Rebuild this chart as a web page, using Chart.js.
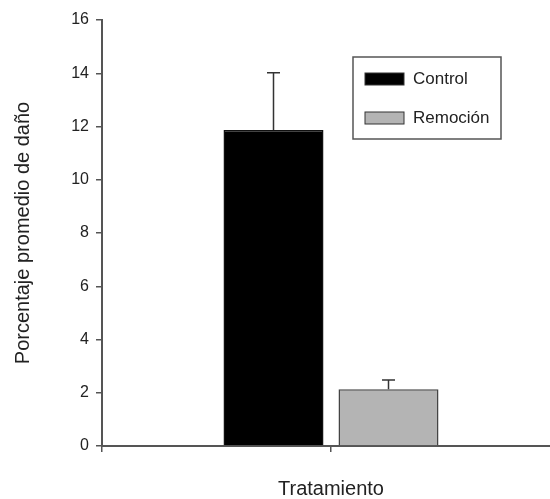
<!DOCTYPE html>
<html>
<head>
<meta charset="utf-8">
<script src="https://cdn.jsdelivr.net/npm/chart.js@4/dist/chart.umd.min.js"></script>
<style>
  html, body { margin: 0; padding: 0; background: #fff; }
  #wrap { width: 550px; height: 499px; }
</style>
</head>
<body>
<div id="wrap"><canvas id="c" width="550" height="499"></canvas></div>
<script>
// Treatments, mean damage (%) and standard error
const treatments = ['Control', 'Remoción'];
const meanDamage = [11.87, 2.13];
const errDamage = [2.15, 0.35];
const barColors = ['#000000', '#b4b4b4'];
const yTicks = [0, 2, 4, 6, 8, 10, 12, 14, 16];
const xLabel = 'Tratamiento';
const yLabel = 'Porcentaje promedio de daño';

const FONT = "'Liberation Sans', Arial, Helvetica, sans-serif";
const TEXT = '#222222';
const AXIS = '#555555';

// x scale: the single treatment group sits at x = 1
const X_MIN = -0.0457;
const X_MAX = 2;

const datasets = treatments.map((name, i) => ({
  label: name,
  data: [{ x: 1, y: meanDamage[i] }],
  err: [errDamage[i]],
  backgroundColor: barColors[i],
  borderColor: i === 0 ? '#111111' : '#444444',
  borderWidth: 1.5,
  borderSkipped: 'bottom',
  categoryPercentage: 1.0044,
  barPercentage: 0.8696
}));

// Upper error bars with caps
const errorBars = {
  id: 'errorBars',
  afterDatasetsDraw(chart) {
    const ctx = chart.ctx;
    const y = chart.scales.y;
    ctx.save();
    ctx.strokeStyle = '#333333';
    ctx.lineWidth = 1.5;
    chart.data.datasets.forEach((ds, i) => {
      const meta = chart.getDatasetMeta(i);
      meta.data.forEach((bar, j) => {
        const top = y.getPixelForValue(ds.data[j].y + ds.err[j]);
        const cap = 6.5;
        ctx.beginPath();
        ctx.moveTo(bar.x, bar.y);
        ctx.lineTo(bar.x, top);
        ctx.moveTo(bar.x - cap, top);
        ctx.lineTo(bar.x + cap, top);
        ctx.stroke();
      });
    });
    ctx.restore();
  }
};

// Boxed legend in the upper right of the plot
const boxLegend = {
  id: 'boxLegend',
  afterDraw(chart) {
    const ctx = chart.ctx;
    const a = chart.chartArea;
    const bx = a.left + 251, by = a.top + 37, bw = 148, bh = 82;
    ctx.save();
    ctx.strokeStyle = AXIS;
    ctx.lineWidth = 1.5;
    ctx.strokeRect(bx, by, bw, bh);
    ctx.font = '17px ' + FONT;
    ctx.textBaseline = 'middle';
    ctx.textAlign = 'left';
    chart.data.datasets.forEach((ds, i) => {
      const sy = by + 16 + i * 39;
      ctx.fillStyle = ds.backgroundColor;
      ctx.fillRect(bx + 12, sy, 39, 12);
      ctx.strokeStyle = '#333333';
      ctx.lineWidth = 1;
      ctx.strokeRect(bx + 12, sy, 39, 12);
      ctx.fillStyle = TEXT;
      ctx.fillText(ds.label, bx + 60, sy + 6);
    });
    ctx.restore();
  }
};

new Chart(document.getElementById('c'), {
  type: 'bar',
  data: { datasets },
  options: {
    responsive: false,
    animation: false,
    devicePixelRatio: 1,
    layout: { padding: { top: 20, right: 0, bottom: 0, left: 0 } },
    plugins: { legend: { display: false }, tooltip: { enabled: false } },
    scales: {
      x: {
        type: 'linear',
        offset: false,
        min: X_MIN,
        max: X_MAX,
        afterBuildTicks(scale) { scale.ticks = [{ value: X_MIN }, { value: 1 }]; },
        afterFit(scale) {
          scale.height = 53;
          scale.paddingLeft = 0;
          scale.paddingRight = 0;
        },
        ticks: {
          autoSkip: false,
          maxRotation: 0,
          padding: 25,
          color: TEXT,
          font: { family: FONT, size: 20 },
          callback: (v) => (v === 1 ? xLabel : '')
        },
        grid: { offset: false, drawOnChartArea: false, drawTicks: true, tickLength: 6, color: AXIS, lineWidth: 1.5 },
        border: { display: true, color: AXIS, width: 2 }
      },
      y: {
        min: 0,
        max: 16,
        afterBuildTicks(scale) { scale.ticks = yTicks.map(v => ({ value: v })); },
        afterFit(scale) { scale.width = 102; },
        ticks: {
          padding: 7,
          color: TEXT,
          font: { family: FONT, size: 16 }
        },
        grid: { drawOnChartArea: false, drawTicks: true, tickLength: 6, color: AXIS, lineWidth: 1.5 },
        border: { display: true, color: AXIS, width: 2 },
        title: {
          display: true,
          text: yLabel,
          color: TEXT,
          font: { family: FONT, size: 20 },
          padding: { top: 11, bottom: 0 }
        }
      }
    }
  },
  plugins: [errorBars, boxLegend]
});
</script>
</body>
</html>
